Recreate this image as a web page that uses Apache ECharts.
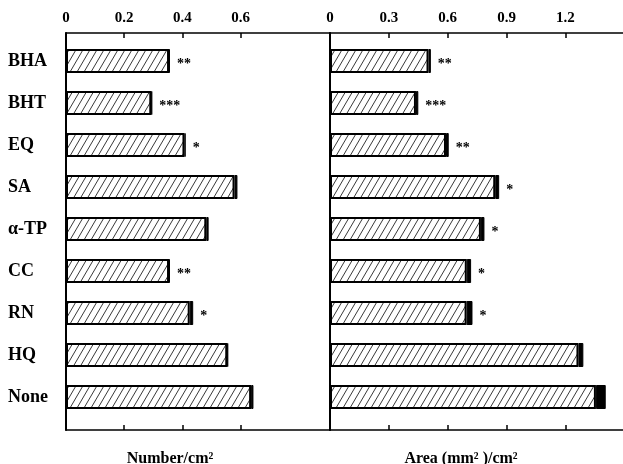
<!DOCTYPE html>
<html>
<head>
<meta charset="utf-8">
<script src="https://cdn.jsdelivr.net/npm/echarts@6/dist/echarts.min.js"></script>
<style>html,body{margin:0;padding:0;background:#fff;}#c{width:623px;height:464px;}</style>
</head>
<body>
<div id="c"></div>
<script>
const categories = ['BHA', 'BHT', 'EQ', 'SA', 'α-TP', 'CC', 'RN', 'HQ', 'None'];
const numberMean = [0.354, 0.293, 0.407, 0.579, 0.482, 0.354, 0.425, 0.554, 0.636];
const numberErr  = [0.003, 0.003, 0.004, 0.010, 0.008, 0.003, 0.012, 0.003, 0.008];
const areaMean   = [0.502, 0.438, 0.591, 0.842, 0.769, 0.697, 0.696, 1.266, 1.355];
const areaErr    = [0.012, 0.012, 0.014, 0.020, 0.018, 0.022, 0.030, 0.025, 0.050];
const numberSig  = ['**', '***', '*', '', '', '**', '*', '', ''];
const areaSig    = ['**', '***', '**', '*', '*', '*', '*', '', ''];
const numberTicks = [0, 0.2, 0.4, 0.6];
const areaTicks   = [0, 0.3, 0.6, 0.9, 1.2];
const numberTitle = 'Number/cm²';
const areaTitle = 'Area (mm² )/cm²';

const FONT = '"Liberation Serif", "DejaVu Serif", serif';

function hatch() {
  const c = document.createElement('canvas');
  c.width = 7; c.height = 12;
  const g = c.getContext('2d');
  g.fillStyle = '#fff'; g.fillRect(0, 0, 7, 12);
  g.strokeStyle = '#222'; g.lineWidth = 0.9;
  for (const dx of [-7, 0, 7]) {
    g.beginPath(); g.moveTo(dx, 12); g.lineTo(dx + 7, 0); g.stroke();
  }
  return c;
}
const pattern = { image: hatch(), repeat: 'repeat' };

const chart = echarts.init(document.getElementById('c'), null, { renderer: 'canvas' });

function frameX(grid, pos, max, ticks, showLabel) {
  return {
    type: 'value', gridIndex: grid, position: pos, min: 0, max: max,
    axisLine: { show: true, onZero: false, lineStyle: { color: '#000', width: 1.5 } },
    axisTick: { show: true, inside: true, length: 5, customValues: ticks.slice(1),
      lineStyle: { color: '#000', width: 1.5 } },
    axisLabel: {
      show: showLabel, customValues: ticks, margin: 7,
      color: '#000', fontFamily: FONT, fontWeight: 'bold', fontSize: 15,
      formatter: function (v) { return String(Math.round(v * 10) / 10); }
    },
    splitLine: { show: false }
  };
}
function dataX(grid, max) {
  return { type: 'value', gridIndex: grid, min: 0, max: max, show: false };
}

const NMAX = 0.907, AMAX = 1.493;

function seriesPair(xi, yi, mean, err, sig, stack) {
  return [
    {
      type: 'bar', xAxisIndex: xi, yAxisIndex: yi, stack: stack, barWidth: 24,
      data: mean,
      itemStyle: { color: pattern, borderColor: '#000', borderWidth: 2 },
      silent: true
    },
    {
      type: 'bar', xAxisIndex: xi, yAxisIndex: yi, stack: stack, barWidth: 24,
      data: err,
      itemStyle: { color: '#000', borderColor: '#000', borderWidth: 1 },
      label: {
        show: true, position: 'right', distance: 7, offset: [0, 3],
        color: '#000', fontFamily: FONT, fontWeight: 'bold', fontSize: 14,
        formatter: function (p) { return sig[p.dataIndex]; }
      },
      silent: true
    }
  ];
}

const option = {
  backgroundColor: '#fff',
  animation: false,
  title: [
    { text: numberTitle, left: 165, top: 446, textAlign: 'center',
      textStyle: { fontFamily: FONT, fontWeight: 'bold', fontSize: 16, color: '#000' } },
    { text: areaTitle, left: 456, top: 446, textAlign: 'center',
      textStyle: { fontFamily: FONT, fontWeight: 'bold', fontSize: 16, color: '#000' } }
  ],
  grid: [
    { left: 66, top: 33, width: 264, height: 397 },
    { left: 330, top: 33, width: 293, height: 397 },
    { left: 66, top: 40, width: 264, height: 378 },
    { left: 330, top: 40, width: 293, height: 378 }
  ],
  xAxis: [
    frameX(0, 'top', NMAX, numberTicks, true),
    frameX(0, 'bottom', NMAX, numberTicks, false),
    frameX(1, 'top', AMAX, areaTicks, true),
    frameX(1, 'bottom', AMAX, areaTicks, false),
    dataX(2, NMAX),
    dataX(3, AMAX)
  ],
  yAxis: [
    { type: 'value', gridIndex: 0, min: 0, max: 1, position: 'left',
      axisLine: { show: true, onZero: false, lineStyle: { color: '#000', width: 2 } },
      axisTick: { show: false }, axisLabel: { show: false }, splitLine: { show: false } },
    { type: 'value', gridIndex: 1, min: 0, max: 1, position: 'left',
      axisLine: { show: true, onZero: false, lineStyle: { color: '#000', width: 2 } },
      axisTick: { show: false }, axisLabel: { show: false }, splitLine: { show: false } },
    { type: 'category', gridIndex: 2, data: categories, inverse: true,
      axisLine: { show: false }, axisTick: { show: false },
      axisLabel: { show: true, align: 'left', margin: 58, color: '#000',
        fontFamily: FONT, fontWeight: 'bold', fontSize: 18 } },
    { type: 'category', gridIndex: 3, data: categories, inverse: true,
      axisLine: { show: false }, axisTick: { show: false }, axisLabel: { show: false } }
  ],
  series: [].concat(
    seriesPair(4, 2, numberMean, numberErr, numberSig, 'n'),
    seriesPair(5, 3, areaMean, areaErr, areaSig, 'a')
  )
};
chart.setOption(option);
</script>
</body>
</html>
